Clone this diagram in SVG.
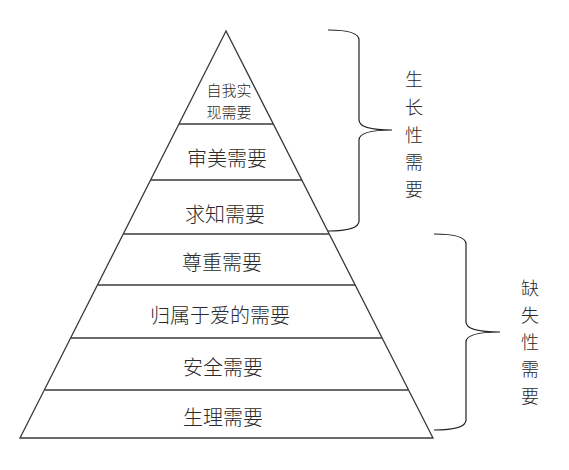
<svg xmlns="http://www.w3.org/2000/svg" width="569" height="470" viewBox="0 0 569 470">
<style>
.ln{stroke:#3a3a3a;stroke-width:1.3;fill:none}
.br{stroke:#222;stroke-width:1.2;fill:none}
text{font-family:"Noto Sans CJK SC","Noto Sans CJK JP",sans-serif;fill:#2a2a2a;text-anchor:middle;dominant-baseline:central;font-weight:300}
.t{font-size:20px}
.s{font-size:15px}
.v{font-size:18px}
</style>
<rect width="569" height="470" fill="#fff"/>
<g id="pyramid">
<polygon class="ln" points="226,31 20,438 433,438"/>
</g>
<g id="connectors">
<line class="ln" x1="179" y1="124" x2="273" y2="124"/>
<line class="ln" x1="151" y1="180" x2="302" y2="180"/>
<line class="ln" x1="124" y1="234" x2="329" y2="234"/>
<line class="ln" x1="98" y1="285" x2="355" y2="285"/>
<line class="ln" x1="71" y1="338" x2="382" y2="338"/>
<line class="ln" x1="45" y1="390" x2="408" y2="390"/>
<path class="br" d="M328,30 Q359,30 359,40 L359,120 Q359,130 392,130 Q359,130 359,140 L359,221 Q359,231 328,231"/>
<path class="br" d="M434,234 Q466,234 466,244 L466,322 Q466,332 500,332 Q466,332 466,342 L466,420 Q466,430 434,430"/>
</g>
<g id="n1"><text class="s" x="229" y="89">自我实</text><text class="s" x="229" y="111">现需要</text></g>
<g id="n2"><text class="t" x="227" y="157">审美需要</text></g>
<g id="n3"><text class="t" x="225" y="213">求知需要</text></g>
<g id="n4"><text class="t" x="222" y="261">尊重需要</text></g>
<g id="n5"><text class="t" x="220" y="314">归属于爱的需要</text></g>
<g id="n6"><text class="t" x="223" y="366">安全需要</text></g>
<g id="n7"><text class="t" x="223" y="416">生理需要</text></g>
<g id="growth">
<text class="v" x="414" y="78">生</text>
<text class="v" x="414" y="106">长</text>
<text class="v" x="414" y="134">性</text>
<text class="v" x="414" y="161">需</text>
<text class="v" x="414" y="188">要</text>
</g>
<g id="deficiency">
<text class="v" x="530" y="287">缺</text>
<text class="v" x="530" y="314">失</text>
<text class="v" x="530" y="341">性</text>
<text class="v" x="530" y="368">需</text>
<text class="v" x="530" y="395">要</text>
</g>
</svg>
